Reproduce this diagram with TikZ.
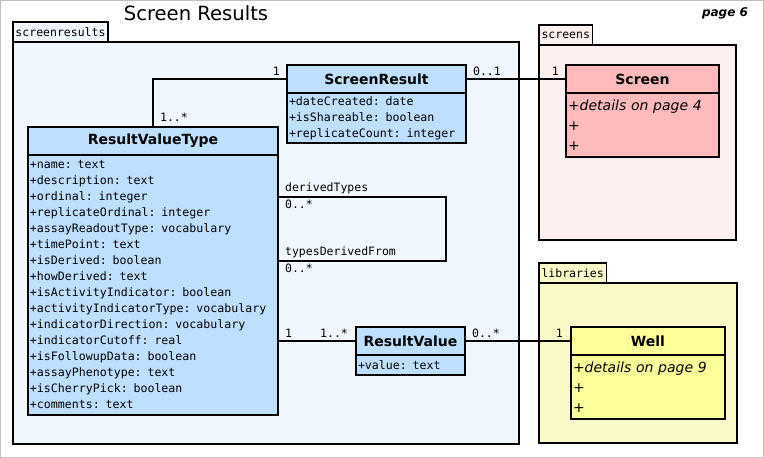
\documentclass[tikz,border=0pt]{standalone}
\usepackage{fontspec}
\setmainfont{DejaVu Sans}
\newfontfamily\umlmono{DejaVu Sans Mono}
\usetikzlibrary{positioning}

\definecolor{classblue}{RGB}{191,223,255}
\definecolor{pkgblue}{RGB}{240,247,255}
\definecolor{classpink}{RGB}{255,187,187}
\definecolor{pkgpink}{RGB}{255,240,240}
\definecolor{classyellow}{RGB}{255,255,153}
\definecolor{pkgyellow}{RGB}{250,250,200}

\tikzset{
  umlline/.style={line width=1.3pt},
  pkgbody/.style={draw, line width=1.4pt, outer sep=0pt, anchor=north west},
  pkgtab/.style={draw, line width=1.4pt, outer sep=0pt, anchor=south west, inner xsep=2.5pt, inner ysep=0pt, minimum height=20pt, font=\umlmono\fontsize{11.5}{12}\selectfont},
  classhead/.style={draw, line width=1.4pt, outer sep=0pt, anchor=north west, minimum height=28pt, inner sep=0pt, font=\bfseries\fontsize{14}{16}\selectfont},
  classbody/.style={draw, line width=1.4pt, outer sep=0pt, inner xsep=2pt, inner ysep=0pt, align=left, font=\umlmono\fontsize{11.6}{16}\selectfont},
  detailbody/.style={classbody, font=\fontsize{14}{20}\selectfont},
  mult/.style={inner sep=1.5pt, font=\umlmono\fontsize{11.5}{12}\selectfont},
}

\begin{document}
\begin{tikzpicture}[x=1pt, y=-1pt]
\useasboundingbox (0,0) rectangle (764,458);
\draw[gray!50, fill=white, line width=1pt] (0.5,0.5) rectangle (763.5,457.5);

\node (title) at (196,13) {\fontsize{19.6}{22}\selectfont Screen Results};
\node (pagenum) at (725,13) {\bfseries\itshape\fontsize{12}{14}\selectfont page 6};

% packages
\node[pkgbody, fill=pkgblue, minimum width=506pt, minimum height=402pt] (pkgsr) at (13,42) {};
\node[pkgtab, fill=pkgblue] (tabsr) at (pkgsr.north west) {screenresults};
\node[pkgbody, fill=pkgpink, minimum width=197pt, minimum height=195pt] (pkgscr) at (539,45) {};
\node[pkgtab, fill=pkgpink] (tabscr) at (pkgscr.north west) {screens};
\node[pkgbody, fill=pkgyellow, minimum width=198pt, minimum height=160pt] (pkglib) at (539,283) {};
\node[pkgtab, fill=pkgyellow] (tablib) at (pkglib.north west) {libraries};

% classes
\node[classhead, fill=classblue, minimum width=179pt] (srhead) at (287,65) {ScreenResult};
\node[classbody, fill=classblue, below=0pt of srhead, text width=175pt, minimum height=50pt] (srbody)
  {+dateCreated: date\\+isShareable: boolean\\+replicateCount: integer};

\node[classhead, fill=classpink, minimum width=153pt] (scrhead) at (566,65) {Screen};
\node[detailbody, fill=classpink, below=0pt of scrhead, text width=149pt, minimum height=64pt] (scrbody)
  {+\textit{details on page 4}\\+\\+};

\node[classhead, fill=classblue, minimum width=250pt] (rvthead) at (28,127) {ResultValueType};
\node[classbody, fill=classblue, below=0pt of rvthead, text width=246pt, minimum height=260pt] (rvtbody)
  {+name: text\\+description: text\\+ordinal: integer\\+replicateOrdinal: integer\\
   +assayReadoutType: vocabulary\\+timePoint: text\\+isDerived: boolean\\+howDerived: text\\
   +isActivityIndicator: boolean\\+activityIndicatorType: vocabulary\\+indicatorDirection: vocabulary\\
   +indicatorCutoff: real\\+isFollowupData: boolean\\+assayPhenotype: text\\+isCherryPick: boolean\\
   +comments: text};

\node[classhead, fill=classblue, minimum width=109pt] (rvhead) at (356,327) {ResultValue};
\node[classbody, fill=classblue, below=0pt of rvhead, text width=105pt, minimum height=20pt] (rvbody)
  {+value: text};

\node[classhead, fill=classyellow, minimum width=154pt] (wellhead) at (571,327) {Well};
\node[detailbody, fill=classyellow, below=0pt of wellhead, text width=150pt, minimum height=64pt] (wellbody)
  {+\textit{details on page 9}\\+\\+};

% associations
\draw[umlline] (srhead.west) -| (rvthead.north)
  node[mult, pos=0, above left, xshift=-5pt, yshift=1pt] {1}
  node[mult, pos=1, above right, xshift=5pt, yshift=3pt] {1..*};
\draw[umlline] (srhead.east) -- (scrhead.west)
  node[mult, pos=0, above right, xshift=5pt, yshift=1pt] {0..1}
  node[mult, pos=1, above left, xshift=-5pt, yshift=1pt] {1};
\draw[umlline] ([yshift=-42pt]rvtbody.north east)
  -- node[mult, pos=0, above right, xshift=5pt, yshift=1pt] {derivedTypes}
     node[mult, pos=0, below right, xshift=5pt, yshift=-1pt] {0..*} ++(168,0)
  |- node[mult, pos=1, above right, xshift=5pt, yshift=1pt] {typesDerivedFrom}
     node[mult, pos=1, below right, xshift=5pt, yshift=-1pt] {0..*} ([yshift=-106pt]rvtbody.north east);
\draw[umlline] ([yshift=-186pt]rvtbody.north east) -- (rvhead.west)
  node[mult, pos=0, above right, xshift=5pt, yshift=1pt] {1}
  node[mult, pos=1, above left, xshift=-6pt, yshift=1pt] {1..*};
\draw[umlline] (rvhead.east) -- (wellhead.west)
  node[mult, pos=0, above right, xshift=5pt, yshift=1pt] {0..*}
  node[mult, pos=1, above left, xshift=-6pt, yshift=1pt] {1};
\end{tikzpicture}
\end{document}
